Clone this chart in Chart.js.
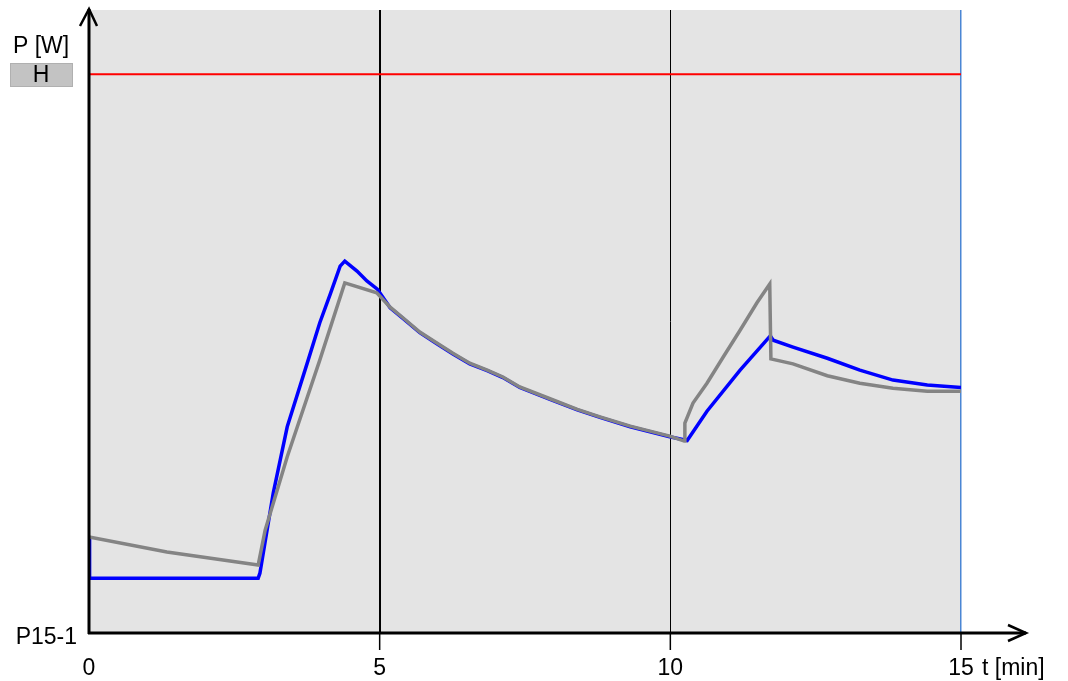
<!DOCTYPE html>
<html>
<head>
<meta charset="utf-8">
<title>P15-1</title>
<script src="https://cdn.jsdelivr.net/npm/chart.js@4.4.0/dist/chart.umd.min.js"></script>
<style>
  html, body { margin: 0; padding: 0; background: #fff; }
  #wrap { width: 1068px; height: 681px; }
</style>
</head>
<body>
<div id="wrap"><canvas id="chart" width="1068" height="681"></canvas></div>
<script>
/* ── Data (t in min, P in % of axis height) ─────────────────── */
const greyT = [0, 1.34, 2.91, 3.03, 3.41, 3.97, 4.40, 4.95, 5.18, 5.40, 5.69, 5.99, 6.26, 6.55, 6.85, 7.12, 7.41, 7.93, 8.40, 8.79,
               9.31, 9.65, 9.99, 10.24, 10.25, 10.39, 10.63, 10.91, 11.20, 11.49, 11.71, 11.73, 12.11, 12.70, 13.26, 13.83, 14.42, 15];
const greyP = [15.4, 13.0, 10.9, 16.5, 28.3, 43.8, 56.2, 54.6, 52.3, 50.6, 48.3, 46.5, 44.9, 43.3, 42.2, 41.1, 39.5, 37.6, 35.9, 34.7,
               33.2, 32.4, 31.6, 30.8, 33.7, 36.9, 40.1, 44.3, 48.6, 53.0, 56.0, 44.0, 43.2, 41.3, 40.1, 39.3, 38.8, 38.8];

const blueT = [0, 0.01, 2.91, 2.94, 3.17, 3.41, 3.77, 3.97, 4.15, 4.32, 4.40, 4.61, 4.78, 4.96, 5.18, 5.40, 5.69, 5.99, 6.26, 6.55,
               6.85, 7.12, 7.41, 7.93, 8.40, 8.79, 9.31, 9.65, 9.99, 10.29, 10.63, 11.20, 11.72, 11.77, 12.11, 12.70, 13.26, 13.83, 14.42, 15];
const blueP = [15.2, 8.8, 8.8, 9.6, 22.5, 33.1, 43.8, 49.8, 54.4, 58.9, 59.7, 58.1, 56.5, 55.2, 52.2, 50.5, 48.2, 46.4, 44.8, 43.2,
               42.1, 41.0, 39.4, 37.5, 35.8, 34.6, 33.1, 32.3, 31.5, 30.9, 35.6, 42.2, 47.7, 47.0, 45.9, 44.1, 42.2, 40.6, 39.8, 39.4];

const limitT = [0, 15];
const limitP = [89.7, 89.7];

const xTicks = [0, 5, 10, 15];
const xTickLabels = ['0', '5', '10', '15'];

const FONT = "23px 'Liberation Sans', Arial, sans-serif";

const pts = (ts, ps) => ts.map((t, i) => ({ x: t, y: ps[i] }));

/* ── Plot background + axes drawn by hand ───────────────────── */
const frame = {
  id: 'frame',
  beforeDraw(chart) {
    const { ctx, chartArea: a } = chart;
    ctx.save();
    ctx.fillStyle = '#e4e4e4';
    ctx.fillRect(a.left, a.top, a.right - a.left, a.bottom - a.top);
    ctx.restore();
  },
  afterDraw(chart) {
    const { ctx, chartArea: a, scales: { x } } = chart;
    ctx.save();
    ctx.strokeStyle = '#000';
    ctx.lineCap = 'butt';

    // y axis + arrow
    ctx.lineWidth = 3;
    ctx.beginPath();
    ctx.moveTo(a.left, a.bottom + 1);
    ctx.lineTo(a.left, 9);
    ctx.stroke();
    ctx.lineWidth = 2.5;
    ctx.beginPath();
    ctx.moveTo(a.left - 9, 26);
    ctx.lineTo(a.left, 9);
    ctx.lineTo(a.left + 8, 26);
    ctx.stroke();

    // x axis + arrow
    ctx.lineWidth = 3;
    ctx.beginPath();
    ctx.moveTo(a.left - 1, a.bottom);
    ctx.lineTo(1026, a.bottom);
    ctx.stroke();
    ctx.lineWidth = 2.5;
    ctx.beginPath();
    ctx.moveTo(1008, a.bottom - 8);
    ctx.lineTo(1026, a.bottom);
    ctx.lineTo(1008, a.bottom + 8);
    ctx.stroke();

    // tick marks + labels
    ctx.lineWidth = 1.5;
    ctx.font = FONT;
    ctx.fillStyle = '#000';
    ctx.textAlign = 'center';
    ctx.textBaseline = 'alphabetic';
    xTicks.forEach((v, i) => {
      const px = x.getPixelForValue(v);
      if (v > 0) {
        ctx.beginPath();
        ctx.moveTo(px, a.bottom);
        ctx.lineTo(px, a.bottom + 17);
        ctx.stroke();
      }
      ctx.fillText(xTickLabels[i], px, 675);
    });

    ctx.textAlign = 'left';
    ctx.fillText('t [min]', 982, 675);

    // y labels
    ctx.fillText('P [W]', 13, 53);
    ctx.fillStyle = '#c3c3c3';
    ctx.fillRect(10, 63, 62, 23);
    ctx.strokeStyle = '#b0b0b0';
    ctx.lineWidth = 1;
    ctx.strokeRect(10.5, 63.5, 62, 23);
    ctx.fillStyle = '#000';
    ctx.textAlign = 'center';
    ctx.fillText('H', 41, 82);
    ctx.textAlign = 'right';
    ctx.fillText('P15-1', 77, 644);
    ctx.restore();
  },
};

/* ── Chart ──────────────────────────────────────────────────── */
function gridColor(c) {
  const v = c.tick && c.tick.value;
  if (v === 0) return 'rgba(0,0,0,0)';
  if (v === 15) return '#4a86d4';
  return '#000';
}

function gridWidth(c) {
  const v = c.tick && c.tick.value;
  if (v === 5) return 2;
  if (v === 15) return 1.5;
  return 1;
}

new Chart(document.getElementById('chart'), {
  type: 'line',
  data: {
    datasets: [
      { label: 'grey', data: pts(greyT, greyP), borderColor: '#848484', borderWidth: 3.5, order: 1 },
      { label: 'blue', data: pts(blueT, blueP), borderColor: '#0000ff', borderWidth: 3.5, order: 2 },
      { label: 'H', data: pts(limitT, limitP), borderColor: '#ff0000', borderWidth: 2, order: 0 },
    ],
  },
  options: {
    responsive: false,
    animation: false,
    layout: { padding: { left: 89, top: 10, right: 107, bottom: 48 } },
    elements: {
      point: { radius: 0 },
      line: { tension: 0, fill: false, borderCapStyle: 'butt', borderJoinStyle: 'miter' },
    },
    plugins: { legend: { display: false }, tooltip: { enabled: false } },
    scales: {
      x: {
        type: 'linear',
        min: 0,
        max: 15,
        afterFit: s => { s.height = 0; },
        ticks: { display: false, stepSize: 5 },
        grid: { drawTicks: false, color: gridColor, lineWidth: gridWidth },
        border: { display: false },
      },
      y: {
        type: 'linear',
        min: 0,
        max: 100,
        display: false,
      },
    },
  },
  plugins: [frame],
});
</script>
</body>
</html>
